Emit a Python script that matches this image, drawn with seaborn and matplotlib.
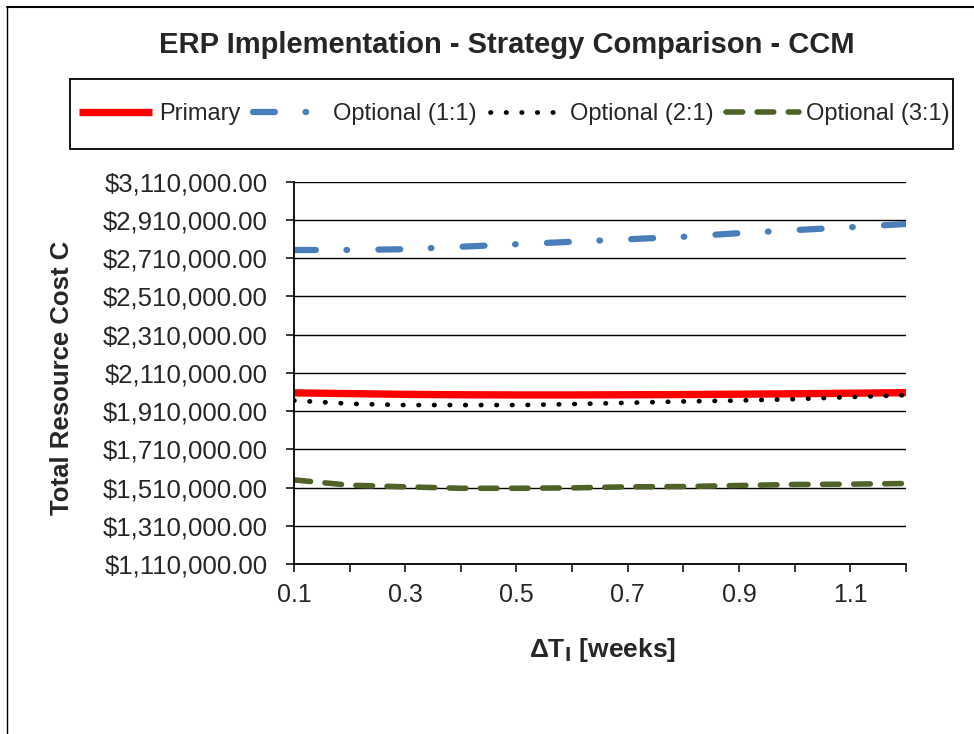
import matplotlib
matplotlib.use("Agg")
import matplotlib.pyplot as plt
import seaborn as sns
import pandas as pd
from matplotlib.lines import Line2D
from matplotlib.patches import Rectangle

# Datos
delta_t = [0.1, 0.2, 0.3, 0.4, 0.5, 0.6, 0.7, 0.8, 0.9, 1.0, 1.1, 1.2]
primary = [2005000, 2001000, 1997000, 1995000, 1994000, 1994000,
           1995000, 1996000, 1998000, 2000000, 2003000, 2006000]
optional_1_1 = [2752000, 2752000, 2756000, 2769000, 2782000, 2795000,
                2808000, 2821000, 2840000, 2856000, 2871000, 2888000]
optional_2_1 = [1965000, 1948000, 1941000, 1941000, 1941000, 1946000,
                1953000, 1960000, 1965000, 1972000, 1983000, 1993000]
optional_3_1 = [1549800, 1522000, 1513500, 1506000, 1506000, 1508000,
                1513500, 1515000, 1520500, 1525800, 1527500, 1531000]

series_names = ['Primary', 'Optional (1:1)', 'Optional (2:1)', 'Optional (3:1)']
y_ticks = [1110000, 1310000, 1510000, 1710000, 1910000, 2110000,
           2310000, 2510000, 2710000, 2910000, 3110000]
x_tick_labels = ['0.1', '', '0.3', '', '0.5', '', '0.7', '', '0.9', '', '1.1', '']

df = pd.DataFrame({'dt': delta_t, series_names[0]: primary,
                   series_names[1]: optional_1_1, series_names[2]: optional_2_1,
                   series_names[3]: optional_3_1})

sns.set_style('white')
plt.rcParams['font.family'] = ['Liberation Sans', 'DejaVu Sans']

fig = plt.figure(figsize=(9.74, 7.34), dpi=100)
ax = fig.add_axes([0.3018, 0.2316, 0.6283, 0.5211])

estilos = [
    dict(color='#FF0000', lw=5.3, linestyle='-', solid_capstyle='butt'),
    dict(color='#4A7EBB', lw=4.5, linestyle=(0, (3.5, 4.9, 0.1, 5.0)), dash_capstyle='round'),
    dict(color='black', lw=3.4, linestyle=(0, (0.1, 3.2)), dash_capstyle='round'),
    dict(color='#4F6228', lw=4.0, linestyle=(0, (3.0, 2.6)), dash_capstyle='round'),
]
for name, st in zip(series_names, estilos):
    sns.lineplot(x='dt', y=name, data=df, ax=ax, label=name, **st)

ax.set_xlim(0.1, 1.2)
ax.set_ylim(y_ticks[0], y_ticks[-1])
ax.set_yticks(y_ticks)
ax.set_yticklabels([f'${v:,.2f}' for v in y_ticks])
ax.set_xticks(delta_t)
ax.set_xticklabels(x_tick_labels)
ax.tick_params(axis='y', direction='out', length=6, width=1.3, pad=13, labelsize=18.5, left=True)
ax.tick_params(axis='x', direction='out', length=6, width=1.3, pad=8, labelsize=18, bottom=True)

ax.grid(True, axis='y', color='black', lw=1.0)
ax.grid(False, axis='x')
for s in ['top', 'right']:
    ax.spines[s].set_visible(False)
for s in ['left', 'bottom']:
    ax.spines[s].set_color('black')
    ax.spines[s].set_linewidth(1.3)
ax.set_xlabel('')
ax.set_ylabel('')

# Leyenda sin marco; el marco se dibuja aparte
handles, labels = ax.get_legend_handles_labels()
ax.get_legend().remove()
fig.legend(handles, labels, ncol=4, loc='center',
           bbox_to_anchor=(514.5 / 974, 1 - 114 / 734),
           fontsize=17, handlelength=3.1, handletextpad=0.3,
           columnspacing=0.53, borderpad=0, frameon=False)
fig.add_artist(Rectangle((70 / 974, 1 - 149 / 734), 883 / 974, 70 / 734,
                         transform=fig.transFigure, fill=False,
                         edgecolor='black', lw=1.3))

fig.text(507 / 974, 1 - 45 / 734, 'ERP Implementation - Strategy Comparison - CCM',
         ha='center', va='center', fontsize=21, fontweight='bold')
fig.text(62 / 974, 1 - 378 / 734, 'Total Resource Cost C', rotation=90,
         ha='center', va='center', fontsize=18.5, fontweight='bold')
fig.text(602 / 974, 1 - 650 / 734, r'ΔT$_\mathbf{l}$ [weeks]',
         ha='center', va='center', fontsize=19, fontweight='bold')

# Marco exterior (solo arriba e izquierda)
fig.add_artist(Line2D([7 / 974, 1], [1 - 7 / 734, 1 - 7 / 734],
                      transform=fig.transFigure, color='black', lw=1.5))
fig.add_artist(Line2D([7 / 974, 7 / 974], [0, 1 - 7 / 734],
                      transform=fig.transFigure, color='black', lw=1.0))

fig.savefig('out.png', dpi=100)
